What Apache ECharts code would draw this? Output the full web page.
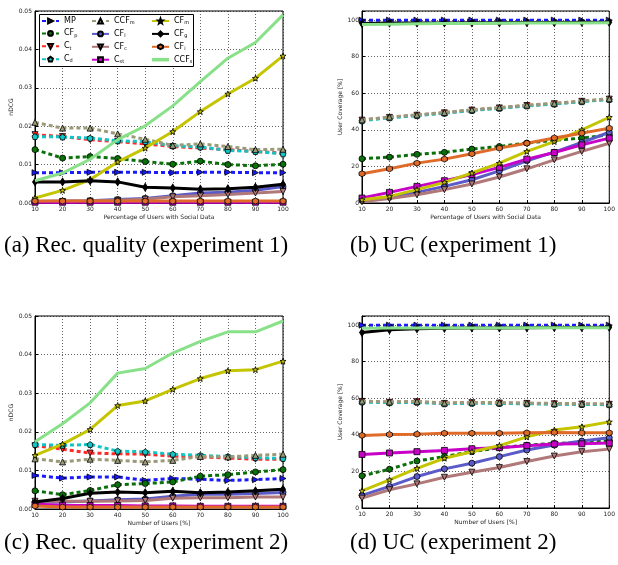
<!DOCTYPE html>
<html><head><meta charset="utf-8">
<script src="https://cdn.jsdelivr.net/npm/echarts@6/dist/echarts.min.js"></script>
<style>html,body{margin:0;padding:0;background:#fff}#c{width:618px;height:565px}</style>
</head><body><div id="c"></div>
<script>
const X = [10,20,30,40,50,60,70,80,90,100];
const xTicks = [10,20,30,40,50,60,70,80,90,100];
const seriesNames = ['MP','CF_p','C_t','C_d','CCF_m','CF_l','CF_c','C_st','CF_m','CF_g','CF_i','CCF_s'];
const captions = ['(a) Rec. quality (experiment 1)','(b) UC (experiment 1)','(c) Rec. quality (experiment 2)','(d) UC (experiment 2)'];

// (a) nDCG, experiment 1
const a_MP   = [0.0079,0.0079,0.0080,0.0080,0.0080,0.0079,0.0080,0.0080,0.0079,0.0079];
const a_CFp  = [0.0139,0.0117,0.0121,0.0116,0.0108,0.0101,0.0109,0.0100,0.0097,0.0101];
const a_Ct   = [0.0178,0.0173,0.0165,0.0160,0.0154,0.0147,0.0143,0.0139,0.0134,0.0130];
const a_Cd   = [0.0173,0.0172,0.0169,0.0162,0.0160,0.0149,0.0146,0.0137,0.0134,0.0128];
const a_CCFm = [0.0210,0.0195,0.0195,0.0180,0.0166,0.0150,0.0154,0.0147,0.0139,0.0140];
const a_CFl  = [0.0004,0.0005,0.0006,0.0009,0.0012,0.0019,0.0026,0.0028,0.0033,0.0043];
const a_CFc  = [0.0003,0.0004,0.0005,0.0007,0.0010,0.0016,0.0019,0.0022,0.0026,0.0030];
const a_Cst  = [0.0002,0.0002,0.0002,0.0002,0.0002,0.0002,0.0002,0.0002,0.0002,0.0002];
const a_CFm  = [0.0013,0.0033,0.0061,0.0107,0.0143,0.0186,0.0238,0.0284,0.0325,0.0383];
const a_CFg  = [0.0055,0.0055,0.0058,0.0055,0.0041,0.0039,0.0036,0.0037,0.0041,0.0049];
const a_CFi  = [0.0005,0.0005,0.0005,0.0005,0.0005,0.0005,0.0005,0.0005,0.0005,0.0005];
const a_CCFs = [0.0058,0.0078,0.0114,0.0165,0.0201,0.0253,0.0316,0.0377,0.0418,0.0490];

// (b) user coverage, experiment 1
const b_MP   = [100,100,100,100,100,100,100,100,100,100];
const b_CFp  = [24.2,25.1,26.6,27.7,29.5,30.9,32.8,34.3,35.5,37.3];
const b_Ct   = [45.3,46.8,48.0,49.3,50.8,52.0,53.3,54.3,55.6,56.8];
const b_Cd   = [45.0,46.6,47.8,49.1,50.6,51.8,53.1,54.1,55.4,56.6];
const b_CCFm = [45.5,47.0,48.2,49.5,51.0,52.2,53.5,54.5,55.8,57.0];
const b_CFl  = [1.3,3.1,5.8,9.1,12.7,17.6,23.1,27.8,33.1,38.7];
const b_CFc  = [0.7,2.4,4.5,7.3,10.4,14.2,18.7,23.6,28.2,32.7];
const b_Cst  = [2.7,5.8,9.1,12.2,15.5,19.5,24.0,27.6,31.8,35.5];
const b_CFm  = [1.8,3.6,7.3,11.3,16.4,21.8,28.2,33.6,40.0,46.9];
const b_CFg  = [98.2,98.4,98.5,98.5,98.6,98.6,98.7,98.7,98.8,98.8];
const b_CFi  = [16.0,18.7,21.8,24.0,26.9,30.0,32.7,35.6,38.2,40.9];
const b_CCFs = [97.6,97.8,98.0,98.1,98.2,98.3,98.4,98.5,98.5,98.6];

// (c) nDCG, experiment 2
const c_MP   = [0.0087,0.0080,0.0083,0.0083,0.0074,0.0079,0.0077,0.0074,0.0076,0.0079];
const c_CFp  = [0.0047,0.0037,0.0048,0.0063,0.0066,0.0070,0.0085,0.0089,0.0096,0.0102];
const c_Ct   = [0.0164,0.0155,0.0145,0.0143,0.0142,0.0137,0.0135,0.0132,0.0129,0.0129];
const c_Cd   = [0.0167,0.0165,0.0167,0.0150,0.0148,0.0142,0.0139,0.0136,0.0133,0.0131];
const c_CCFm = [0.0130,0.0122,0.0129,0.0126,0.0122,0.0126,0.0136,0.0135,0.0139,0.0142];
const c_CFl  = [0.0018,0.0018,0.0021,0.0024,0.0026,0.0033,0.0038,0.0038,0.0040,0.0043];
const c_CFc  = [0.0020,0.0020,0.0020,0.0021,0.0022,0.0028,0.0029,0.0029,0.0031,0.0031];
const c_Cst  = [0.0012,0.0010,0.0009,0.0009,0.0008,0.0008,0.0007,0.0007,0.0007,0.0007];
const c_CFm  = [0.0139,0.0168,0.0206,0.0268,0.0280,0.0310,0.0338,0.0358,0.0361,0.0383];
const c_CFg  = [0.0018,0.0027,0.0041,0.0044,0.0042,0.0046,0.0042,0.0044,0.0047,0.0051];
const c_CFi  = [0.0008,0.0005,0.0005,0.0005,0.0005,0.0005,0.0005,0.0005,0.0005,0.0005];
const c_CCFs = [0.0174,0.0221,0.0275,0.0352,0.0364,0.0404,0.0434,0.0459,0.0459,0.0487];

// (d) user coverage, experiment 2
const d_MP   = [100,100,100,100,100,100,100,100,100,100];
const d_CFp  = [17.6,21.2,25.7,28.1,30.8,33.0,34.4,35.3,35.9,36.8];
const d_Ct   = [58.3,57.8,58.1,57.2,57.6,57.4,57.2,57.0,56.8,56.7];
const d_Cd   = [58.0,57.6,57.8,57.0,57.3,57.2,57.0,56.8,56.6,56.5];
const d_CCFm = [58.5,58.0,58.3,57.4,57.8,57.6,57.4,57.2,57.0,56.9];
const d_CFl  = [6.9,11.8,17.2,21.4,24.5,28.1,31.7,34.4,36.6,38.4];
const d_CFc  = [5.4,10.0,13.2,16.8,19.6,22.1,25.4,28.4,30.8,32.2];
const d_Cst  = [29.3,30.1,30.8,31.5,32.4,33.0,34.1,35.0,35.1,35.5];
const d_CFm  = [9.4,15.4,21.7,27.2,30.8,34.1,38.9,42.6,44.4,47.1];
const d_CFg  = [96.0,97.5,98.0,98.3,98.5,98.5,98.6,98.7,98.7,98.8];
const d_CFi  = [39.7,40.2,40.4,40.9,40.9,40.9,41.1,41.3,41.1,41.1];
const d_CCFs = [98.3,98.4,98.4,98.5,98.5,98.5,98.6,98.6,98.6,98.6];

const panels = [
  [a_MP,a_CFp,a_Ct,a_Cd,a_CCFm,a_CFl,a_CFc,a_Cst,a_CFm,a_CFg,a_CFi,a_CCFs],
  [b_MP,b_CFp,b_Ct,b_Cd,b_CCFm,b_CFl,b_CFc,b_Cst,b_CFm,b_CFg,b_CFi,b_CCFs],
  [c_MP,c_CFp,c_Ct,c_Cd,c_CCFm,c_CFl,c_CFc,c_Cst,c_CFm,c_CFg,c_CFi,c_CCFs],
  [d_MP,d_CFp,d_Ct,d_Cd,d_CCFm,d_CFl,d_CFc,d_Cst,d_CFm,d_CFg,d_CFi,d_CCFs]
];

const PENT = 'path://M0,-10 L9.5,-3.1 L5.9,8.1 L-5.9,8.1 L-9.5,-3.1 Z';
const HEX = 'path://M0,-10 L8.66,-5 L8.66,5 L0,10 L-8.66,5 L-8.66,-5 Z';
const STAR = 'path://M0,-10 L2.4,-3.3 L9.5,-3.1 L3.9,1.3 L5.9,8.1 L0,4.1 L-5.9,8.1 L-3.9,1.3 L-9.5,-3.1 L-2.4,-3.3 Z';
const STY = [
  {color:'#1a1aff', dash:true, symbol:'triangle', rot:-90, size:6},
  {color:'#0a700a', dash:true, symbol:'circle', size:6},
  {color:'#ff2a2a', dash:true, symbol:'triangle', rot:180, size:6},
  {color:'#12c4c4', dash:true, symbol:PENT, size:6},
  {color:'#9a9a78', dash:true, symbol:'triangle', size:6},
  {color:'#5a5ac8', symbol:'circle', size:6},
  {color:'#b07878', symbol:'triangle', rot:180, size:6},
  {color:'#c800c8', symbol:'rect', size:6},
  {color:'#c4c400', symbol:STAR, size:6},
  {color:'#000000', symbol:'diamond', size:[5,8]},
  {color:'#e06a28', symbol:HEX, size:6},
  {color:'#88e088', symbol:'none', size:0}
];

const grids = [
  {left:35, top:11, width:248, height:192},
  {left:362, top:11, width:250, height:192},
  {left:35, top:316, width:248, height:193},
  {left:362, top:316, width:250, height:192}
];
const xNames = ['Percentage of Users with Social Data','Percentage of Users with Social Data','Number of Users [%]','Number of Users [%]'];
const yNames = ['nDCG','User Coverage [%]','nDCG','User Coverage [%]'];

const gridLine = {show:true, lineStyle:{color:'#222', type:[1,2], width:0.7}};
const xAxes = grids.map((g,i)=>({
  gridIndex:i, type:'value', min:10, max:100, interval:10,
  axisLine:{lineStyle:{color:'#000', width:1}},
  axisTick:{inside:true, length:3, lineStyle:{color:'#000'}},
  axisLabel:{fontSize:6, color:'#222', margin:3, fontFamily:'DejaVu Sans'},
  splitLine:gridLine,
  name:xNames[i], nameLocation:'middle', nameGap:11,
  nameTextStyle:{fontSize:6, color:'#222', fontFamily:'DejaVu Sans'}
}));
const yAxes = grids.map((g,i)=>{
  const nd = (i%2===0);
  return {
    gridIndex:i, type:'value', min:0, max: nd?0.05:105, interval: nd?0.01:20,
    axisLine:{lineStyle:{color:'#000', width:1}},
    axisTick:{inside:true, length:3, lineStyle:{color:'#000'}},
    axisLabel:{fontSize:6, color:'#222', margin:3, fontFamily:'DejaVu Sans',
      formatter: nd ? (v=>v.toFixed(2)) : (v=> v>100 ? '' : String(v))},
    splitLine:gridLine,
    name:yNames[i], nameLocation:'middle', nameGap: nd?18:13, nameRotate:90,
    nameTextStyle:{fontSize:6, color:'#222', fontFamily:'DejaVu Sans'}
  };
});

const series = [];
panels.forEach((arrs,p)=>{
  arrs.forEach((arr,k)=>{
    const s = STY[k];
    series.push({
      type:'line', name:seriesNames[k], xAxisIndex:p, yAxisIndex:p,
      data: X.map((x,j)=>[x, arr[j]]),
      symbol:s.symbol, symbolSize:s.size, symbolRotate:s.rot||0,
      showSymbol: s.symbol!=='none',
      lineStyle:{color:s.color, width:3, type: s.dash?[4,3]:'solid'},
      itemStyle:{color:s.color, borderColor:'#000', borderWidth:0.8},
      emphasis:{disabled:true}, animation:false, z: 2 + k*0.01
    });
  });
});

const fmt = name => { const t = name.split('_'); return t.length>1 ? `{n|${t[0]}}{s|${t[1]}}` : `{n|${t[0]}}`; };
const legendBase = {
  orient:'vertical', top:17, itemWidth:17, itemHeight:6, itemGap:4.4, padding:0,
  formatter: fmt, z:10,
  textStyle:{fontSize:8, color:'#000', fontFamily:'DejaVu Sans',
    rich:{n:{fontSize:8, fontFamily:'DejaVu Sans', color:'#000'}, s:{fontSize:5, fontFamily:'DejaVu Sans', color:'#000', padding:[4,0,0,0]}}}
};
const legendItems = seriesNames.map(n => n==='CCF_s'
  ? {name:n, icon:'path://M0,0 L17,0 L17,3.5 L0,3.5 Z', itemStyle:{color:'#88e088', borderWidth:0}}
  : {name:n});
const legends = [
  Object.assign({}, legendBase, {left:41, data:legendItems.slice(0,4)}),
  Object.assign({}, legendBase, {left:91, data:legendItems.slice(4,8)}),
  Object.assign({}, legendBase, {left:151, data:legendItems.slice(8,12)})
];

const capPos = [[4,246],[350,246],[4,543],[350,543]];
const graphics = [
  {type:'rect', z:9, shape:{x:39.5, y:14.5, width:154, height:52}, style:{fill:'#fff', stroke:'#000', lineWidth:1}}
].concat(captions.map((t,i)=>({
  type:'text', z:10, x:capPos[i][0], y:capPos[i][1],
  style:{text:t, font:'23px "Liberation Serif"', fill:'#000', verticalAlign:'middle'}
})));

const chart = echarts.init(document.getElementById('c'), null, {renderer:'canvas'});
chart.setOption({
  animation:false,
  backgroundColor:'#fff',
  grid: grids.map(g=>Object.assign({show:true, borderColor:'#000', borderWidth:1, backgroundColor:'transparent'}, g)),
  xAxis:xAxes, yAxis:yAxes, series:series, legend:legends, graphic:graphics
});
</script></body></html>
